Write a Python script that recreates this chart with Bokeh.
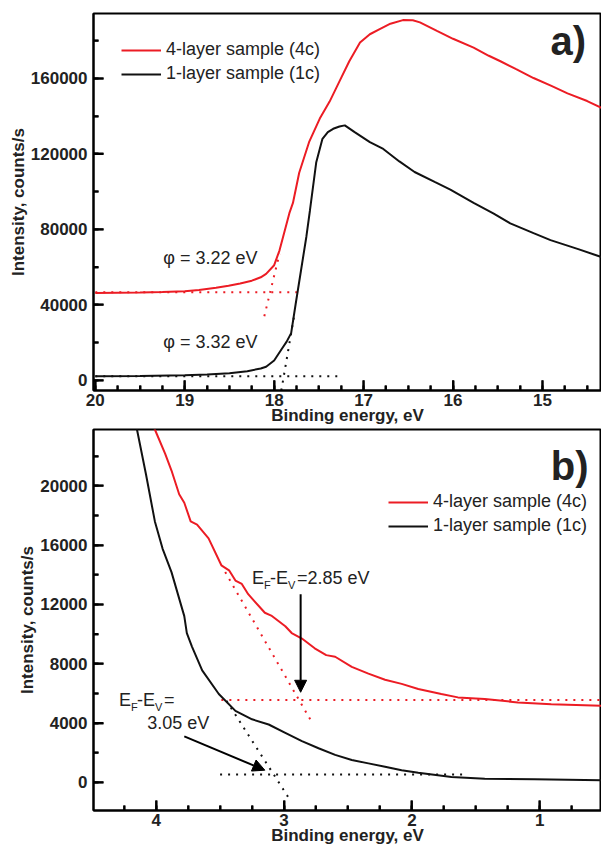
from bokeh.plotting import figure
from bokeh.models import (Range1d, SingleIntervalTicker, NumeralTickFormatter,
                          Legend, LegendItem, Label, Arrow, NormalHead)
from bokeh.layouts import column
from bokeh.embed import file_html
from bokeh.resources import INLINE

FONT = "Liberation Sans"
RED = "#ec1c24"
BLACK = "#111111"
TXT = "#222222"

# ---------------- Panel a) : secondary-electron cut-off ----------------
a_x_4c = [20.0, 19.75, 19.5, 19.25, 19.0, 18.84, 18.65, 18.51, 18.38, 18.25, 18.15, 18.09,
          18.0, 17.94, 17.87, 17.83, 17.79, 17.72, 17.61, 17.49, 17.38, 17.27, 17.16, 17.04,
          16.93, 16.82, 16.7, 16.56, 16.45, 16.37, 16.18, 16.0, 15.77, 15.6, 15.47, 15.3,
          15.1, 14.9, 14.72, 14.5, 14.34]
a_y_4c = [46300, 46400, 46500, 46800, 47200, 47900, 49000, 50100, 51300, 52800, 54600, 56400,
          61000, 68900, 81400, 88600, 94000, 110000, 126200, 138700, 147700, 158400, 169100, 179000,
          183400, 186100, 189000, 190900, 190800, 189700, 185200, 181000, 176300, 172000, 169100, 165000,
          160200, 156000, 152100, 148000, 144400]

a_x_1c = [20.0, 19.5, 19.0, 18.75, 18.5, 18.3, 18.15, 18.09, 18.0, 17.91, 17.86, 17.81,
          17.76, 17.70, 17.64, 17.60, 17.53, 17.46, 17.40, 17.34, 17.27, 17.21, 17.1, 16.93,
          16.78, 16.6, 16.43, 16.2, 16.03, 15.77, 15.55, 15.36, 15.1, 14.91, 14.6, 14.34]
a_y_1c = [2100, 2300, 2700, 3100, 3700, 4800, 6300, 7200, 10500, 17000, 20500, 25000,
          40300, 58200, 76100, 90000, 115400, 128000, 131500, 133300, 134500, 135100, 131500, 126200,
          122600, 116000, 110400, 105000, 101100, 94000, 88500, 83200, 78000, 74300, 69500, 65300]

# extrapolation lines (dotted)
a_base_4c_x = [20.0, 17.73]
a_base_4c_y = [46700, 46700]
a_tan_4c_x = [18.11, 17.94]
a_tan_4c_y = [34000, 67100]
a_base_1c_x = [20.0, 17.27]
a_base_1c_y = [2150, 2150]
a_tan_1c_x = [17.92, 17.77]
a_tan_1c_y = [-5400, 36000]

a_xticks = [20, 19, 18, 17, 16, 15]
a_xminor = [19.75, 19.5, 19.25, 18.75, 18.5, 18.25, 17.75, 17.5, 17.25,
            16.75, 16.5, 16.25, 15.75, 15.5, 15.25, 14.75, 14.5]
a_yticks = [0, 40000, 80000, 120000, 160000]
a_yminor = [20000, 60000, 100000, 140000, 180000]

# ---------------- Panel b) : valence band edge ----------------
b_x_4c = [4.05, 4.01, 3.93, 3.88, 3.82, 3.78, 3.73, 3.68, 3.59, 3.49, 3.43, 3.38, 3.33, 3.28,
          3.15, 3.10, 2.99, 2.94, 2.86, 2.76, 2.67, 2.60, 2.47, 2.34, 2.21, 2.08, 1.95, 1.77,
          1.64, 1.43, 1.17, 0.91, 0.52]
b_y_4c = [24600, 23800, 22170, 21030, 19430, 18860, 17600, 17380, 16460, 14640, 14300, 13610, 13380, 12690,
          11440, 11250, 10530, 10070, 9700, 9040, 8580, 8470, 7790, 7330, 6920, 6640, 6300, 5960,
          5730, 5620, 5390, 5270, 5160]

b_x_1c = [4.18, 4.15, 4.08, 4.01, 3.95, 3.88, 3.78, 3.76, 3.72, 3.64, 3.51, 3.38, 3.25, 3.12,
          2.99, 2.86, 2.73, 2.60, 2.47, 2.34, 2.21, 2.08, 1.95, 1.69, 1.43, 1.04, 0.52]
b_y_1c = [25200, 23800, 20800, 17600, 15770, 14180, 11210, 10070, 9160, 7550, 5960, 4820, 4250, 3900,
          3340, 2780, 2300, 1850, 1510, 1280, 1050, 820, 640, 360, 250, 200, 140]

b_base_4c_x = [3.49, 0.52]
b_base_4c_y = [5550, 5550]
b_tan_4c_x = [3.46, 2.78]
b_tan_4c_y = [14180, 4020]
b_base_1c_x = [3.50, 1.60]
b_base_1c_y = [525, 525]
b_tan_1c_x = [3.45, 2.95]
b_tan_1c_y = [5500, -1230]

b_xticks = [4, 3, 2, 1]
b_xminor = [4.25, 3.75, 3.5, 3.25, 2.75, 2.5, 2.25, 1.75, 1.5, 1.25, 0.75]
b_yticks = [0, 4000, 8000, 12000, 16000, 20000]
b_yminor = [2000, 6000, 10000, 14000, 18000, 22000]

# arrows (x_start, y_start, x_end, y_end)
b_arrow_4c = [2.87, 12690, 2.87, 6075]
b_arrow_1c = [3.78, 3100, 3.15, 820]

LEGEND_LABELS = ["4-layer sample (4c)", "1-layer sample (1c)"]

# axis ranges and tick steps
A_XLIM = (20.02, 14.34)
A_YLIM = (-5400, 194400)
B_XLIM = (4.49, 0.517)
B_YLIM = (-1900, 23800)
A_STEPS = (1, 40000)
B_STEPS = (1, 4000)
# approximate frame sizes in px (only to turn tick lengths into data units)
FRAME_A = (506, 372)
FRAME_B = (512, 378)


def style(p, xstep, ystep):
    p.xgrid.visible = False
    p.ygrid.visible = False
    p.outline_line_color = "black"
    p.outline_line_width = 2
    p.xaxis.ticker = SingleIntervalTicker(interval=xstep, num_minor_ticks=4)
    p.yaxis.ticker = SingleIntervalTicker(interval=ystep, num_minor_ticks=2)
    p.yaxis.formatter = NumeralTickFormatter(format="0")
    for ax in (p.xaxis[0], p.yaxis[0]):
        ax.axis_line_width = 2
        ax.axis_line_color = "black"
        ax.major_tick_line_color = "black"
        ax.minor_tick_line_color = "black"
        ax.major_tick_line_width = 2
        ax.minor_tick_line_width = 2
        ax.major_tick_in = 10
        ax.major_tick_out = 0
        ax.minor_tick_in = 5
        ax.minor_tick_out = 0
        ax.major_label_text_font = FONT
        ax.major_label_text_font_style = "bold"
        ax.major_label_text_font_size = "17px"
        ax.major_label_text_color = TXT
        ax.axis_label_text_font = FONT
        ax.axis_label_text_font_style = "bold"
        ax.axis_label_text_font_size = "17px"
        ax.axis_label_text_color = TXT
    p.xaxis.axis_label_standoff = -3
    p.yaxis.axis_label_standoff = 0
    p.xaxis.major_label_standoff = 3
    p.yaxis.major_label_standoff = 6
    p.xaxis.axis_label = "Binding energy, eV"
    p.yaxis.axis_label = "Intensity, counts/s"


def inner_ticks(p, xlim, ylim, frame, xmaj, xmin, ymaj, ymin):
    # inward ticks as head-less arrow annotations starting on the frame edges
    dx = (xlim[1] - xlim[0]) / frame[0]
    dy = (ylim[1] - ylim[0]) / frame[1]
    kw = dict(start=None, end=None, line_color="black", line_width=2)
    for vals, ln in ((xmaj, 10), (xmin, 5)):
        for v in vals:
            p.add_layout(Arrow(x_start=v, y_start=ylim[0], x_end=v, y_end=ylim[0] + ln * dy, **kw))
    for vals, ln in ((ymaj, 10), (ymin, 5)):
        for v in vals:
            p.add_layout(Arrow(x_start=xlim[0], y_start=v, x_end=xlim[0] + ln * dx, y_end=v, **kw))


def dotted(p, xs, ys, color):
    p.line(xs, ys, line_color=color, line_width=2, line_dash="2 6")


def text(p, x, y, s, size="18px", xo=0, yo=0, bold=False, color=TXT):
    p.add_layout(Label(x=x, y=y, text=s, x_offset=xo, y_offset=yo,
                       text_font=FONT, text_font_size=size, text_color=color,
                       text_font_style="bold" if bold else "normal",
                       text_baseline="middle", text_align="left"))


def efev(p, x, y, tail):
    # E_F - E_V label with subscripts
    text(p, x, y, "E")
    text(p, x, y, "F", size="11px", xo=12, yo=-7)
    text(p, x, y, "-E", xo=18)
    text(p, x, y, "V", size="11px", xo=36, yo=-7)
    text(p, x, y, "=" + tail, xo=45)


def legend(p, renderers, loc):
    p.add_layout(Legend(items=[LegendItem(label=l, renderers=[r]) for l, r in zip(LEGEND_LABELS, renderers)],
                        location=loc, padding=0, margin=0, spacing=3,
                        glyph_width=40, glyph_height=20, label_height=20, label_standoff=5,
                        label_text_font=FONT, label_text_font_size="18px", label_text_color=TXT,
                        border_line_alpha=0, background_fill_alpha=0))


# ---------------- figure a ----------------
pa = figure(width=601, height=427, x_range=Range1d(*A_XLIM),
            y_range=Range1d(*A_YLIM), output_backend="svg",
            toolbar_location=None, min_border_top=13, min_border_left=93,
            min_border_right=0, min_border_bottom=30)
style(pa, *A_STEPS)
dotted(pa, a_base_4c_x, a_base_4c_y, RED)
dotted(pa, a_tan_4c_x, a_tan_4c_y, RED)
dotted(pa, a_base_1c_x, a_base_1c_y, BLACK)
dotted(pa, a_tan_1c_x, a_tan_1c_y, BLACK)
ra4 = pa.line(a_x_4c, a_y_4c, line_color=RED, line_width=2)
ra1 = pa.line(a_x_1c, a_y_1c, line_color=BLACK, line_width=2)
inner_ticks(pa, A_XLIM, A_YLIM, FRAME_A, a_xticks, a_xminor, a_yticks, a_yminor)
legend(pa, [ra4, ra1], (28, 306))
text(pa, 19.24, 64950, "\u03c6 = 3.22 eV")
text(pa, 19.24, 20400, "\u03c6 = 3.32 eV")
text(pa, 14.91, 179900, "a)", size="40px", bold=True)

# ---------------- figure b ----------------
pb = figure(width=601, height=420, x_range=Range1d(*B_XLIM),
            y_range=Range1d(*B_YLIM), output_backend="svg",
            toolbar_location=None, min_border_top=2, min_border_left=88,
            min_border_right=0, min_border_bottom=30)
style(pb, *B_STEPS)
dotted(pb, b_base_4c_x, b_base_4c_y, RED)
dotted(pb, b_tan_4c_x, b_tan_4c_y, RED)
dotted(pb, b_base_1c_x, b_base_1c_y, BLACK)
dotted(pb, b_tan_1c_x, b_tan_1c_y, BLACK)
rb4 = pb.line(b_x_4c, b_y_4c, line_color=RED, line_width=2)
rb1 = pb.line(b_x_1c, b_y_1c, line_color=BLACK, line_width=2)
inner_ticks(pb, B_XLIM, B_YLIM, FRAME_B, b_xticks, b_xminor, b_yticks, b_yminor)
legend(pb, [rb4, rb1], (295, 274))
for arr in (b_arrow_4c, b_arrow_1c):
    pb.add_layout(Arrow(end=NormalHead(size=12, fill_color="black", line_color="black", line_width=1),
                        x_start=arr[0], y_start=arr[1], x_end=arr[2], y_end=arr[3],
                        line_color="black", line_width=2))
efev(pb, 3.25, 13770, "2.85 eV")
efev(pb, 4.29, 5550, "")
text(pb, 4.07, 3970, "3.05 eV")
text(pb, 0.913, 21370, "b)", size="40px", bold=True)

layout = column(pa, pb, spacing=0)
open("out.html", "w").write(file_html(layout, INLINE))
